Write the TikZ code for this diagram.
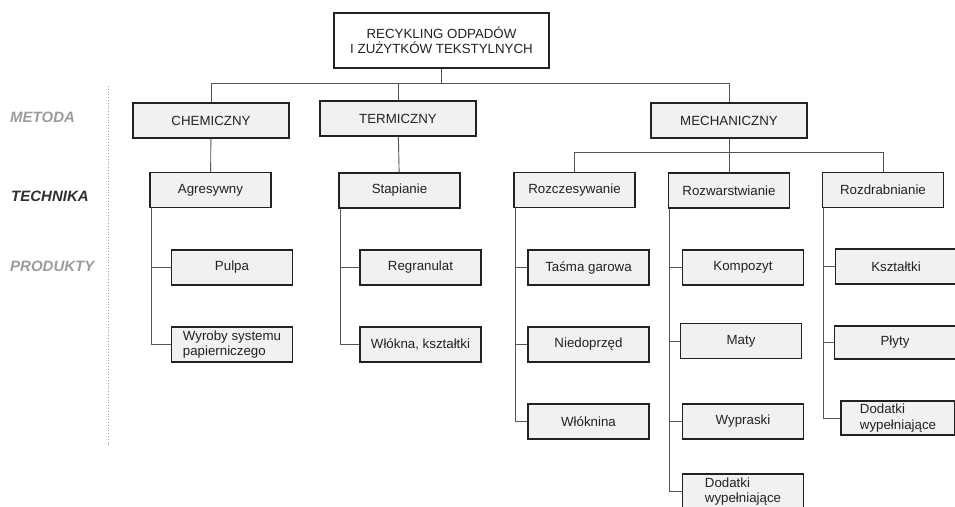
\documentclass[tikz,border=0pt]{standalone}
\usepackage{fontspec}
\setmainfont{Liberation Sans}
\usepackage{tikz}

\definecolor{boxfill}{HTML}{F1F1F1}
\definecolor{boxline}{HTML}{222222}
\definecolor{wireline}{HTML}{555555}
\definecolor{lvlgray}{HTML}{9C9C9C}
\definecolor{lvldark}{HTML}{303030}

\begin{document}
\begin{tikzpicture}[x=1pt,y=-1pt,
  every node/.style={font=\fontsize{13.3}{15.5}\selectfont,text=boxline},
  box/.style={draw=boxline,line width=1.2pt,fill=boxfill,inner sep=0pt,minimum width=121pt,minimum height=35pt,align=center},
  rootbox/.style={draw=boxline,line width=1.9pt,fill=white,inner sep=0pt,minimum width=215pt,minimum height=55pt,align=center},
  metbox/.style={box,minimum width=156pt},
  lvl/.style={anchor=west,inner sep=0pt,font=\fontsize{15}{17}\selectfont\bfseries\itshape},
  wire/.style={draw=wireline,line width=0.9pt}]
\useasboundingbox (0,0) rectangle (955,506);

% poziomy
\node[lvl,text=lvlgray](lmet) at (10,117) {METODA};
\node[lvl,text=lvldark](ltech) at (11,196) {TECHNIKA};
\node[lvl,text=lvlgray](lprod) at (10,266) {PRODUKTY};
\draw[lvlgray,dotted,line width=0.8pt] (108,86) -- (108,445);

\node[rootbox](root) at (441.5,40.5) {RECYKLING ODPADÓW\\I ZUŻYTKÓW TEKSTYLNYCH};

\node[metbox](chem) at (211,120.5) {CHEMICZNY};
\node[metbox](term) at (398,118.5) {TERMICZNY};
\node[metbox](mech) at (729,120.5) {MECHANICZNY};

\node[box](agr) at (210.5,190) {Agresywny};
\node[box](stap) at (399.5,190.5) {Stapianie};
\node[box](rozcz) at (574.5,190) {Rozczesywanie};
\node[box](rozw) at (729,190.5) {Rozwarstwianie};
\node[box](rozd) at (883,190) {Rozdrabnianie};

\node[box](pulpa) at (232,267.5) {Pulpa};
\node[box,align=left](wyroby) at (232,344.5) {Wyroby systemu\\papierniczego};
\node[box](regr) at (420.5,267.5) {Regranulat};
\node[box](wlkszt) at (420.5,344.5) {Włókna, kształtki};

\node[box](tasma) at (588.5,267.5) {Taśma garowa};
\node[box](niedo) at (588.5,344.5) {Niedoprzęd};
\node[box](wlokn) at (588.5,421.5) {Włóknina};

\node[box](kompo) at (743,267.5) {Kompozyt};
\node[box](maty) at (741,341) {Maty};
\node[box](wypr) at (743,421.5) {Wypraski};
\node[box,align=left](dod1) at (743,491.5) {Dodatki\\wypełniające};

\node[box](kszt) at (896,266.5) {Kształtki};
\node[box,minimum height=33pt](plyty) at (895,342.5) {Płyty};
\node[box,minimum width=114pt,minimum height=34pt,align=left](dod2) at (898,418) {Dodatki\\wypełniające};

\draw[wire] (root.south) -- ++(0,14) -| (chem.north);
\draw[wire] (root.south) -- ++(0,14) -| (term.north);
\draw[wire] (root.south) -- ++(0,14) -| (mech.north);

\draw[wire] (chem) -- (agr);
\draw[wire] (term) -- (stap);
\draw[wire] (mech.south) -- ++(0,14) -| (rozcz.north);
\draw[wire] (mech.south) -- (rozw.north);
\draw[wire] (mech.south) -- ++(0,14) -| (rozd.north);

\draw[wire] ([xshift=2pt]agr.south west) |- (pulpa.west);
\draw[wire] ([xshift=2pt]agr.south west) |- (wyroby.west);
\draw[wire] ([xshift=2pt]stap.south west) |- (regr.west);
\draw[wire] ([xshift=2pt]stap.south west) |- (wlkszt.west);

\draw[wire] ([xshift=2pt]rozcz.south west) |- (tasma.west);
\draw[wire] ([xshift=2pt]rozcz.south west) |- (niedo.west);
\draw[wire] ([xshift=2pt]rozcz.south west) |- (wlokn.west);

\draw[wire] ([xshift=2pt]rozw.south west) |- (kompo.west);
\draw[wire] ([xshift=2pt]rozw.south west) |- (maty.west);
\draw[wire] ([xshift=2pt]rozw.south west) |- (wypr.west);
\draw[wire] ([xshift=2pt]rozw.south west) |- (dod1.west);

\draw[wire] ([xshift=2pt]rozd.south west) |- (kszt.west);
\draw[wire] ([xshift=2pt]rozd.south west) |- (plyty.west);
\draw[wire] ([xshift=2pt]rozd.south west) |- (dod2.west);
\end{tikzpicture}
\end{document}
